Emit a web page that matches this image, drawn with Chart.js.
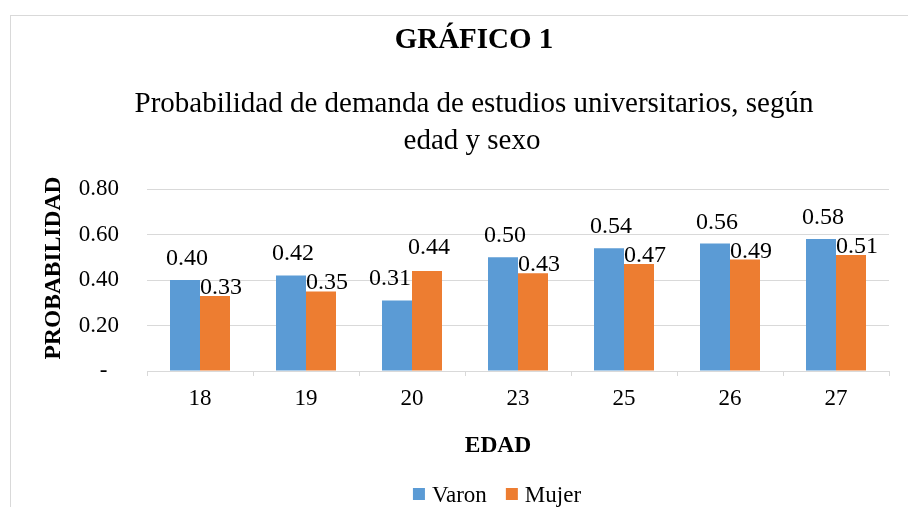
<!DOCTYPE html>
<html>
<head>
<meta charset="utf-8">
<script src="https://cdn.jsdelivr.net/npm/chart.js@4.4.1/dist/chart.umd.min.js"></script>
<style>
  html, body { margin: 0; padding: 0; background: #ffffff; overflow: hidden; }
  canvas { display: block; }
</style>
</head>
<body>
<canvas id="c" width="908" height="507"></canvas>
<script>
// ---- Data ----
const categories = ['18', '19', '20', '23', '25', '26', '27'];
const varon = [0.40, 0.42, 0.31, 0.50, 0.54, 0.56, 0.58];
const mujer = [0.33, 0.35, 0.44, 0.43, 0.47, 0.49, 0.51];
const seriesNames = ['Varon', 'Mujer'];
const yTicks = [0, 0.2, 0.4, 0.6, 0.8];

const titleText = 'GRÁFICO 1';
const subtitleLines = ['Probabilidad de demanda de estudios universitarios, según', 'edad y sexo'];
const yTitle = 'PROBABILIDAD';
const xTitle = 'EDAD';

const FONT = "'Liberation Serif', 'Times New Roman', serif";
const colors = ['#5B9BD5', '#ED7D31'];

Chart.defaults.font.family = FONT;
Chart.defaults.font.size = 23;
Chart.defaults.color = '#000000';

const decorPlugin = {
  id: 'decor',
  beforeDraw(chart) {
    const ctx = chart.ctx;
    ctx.save();
    ctx.fillStyle = '#ffffff';
    ctx.fillRect(0, 0, chart.width, chart.height);
    ctx.strokeStyle = '#d9d9d9';
    ctx.lineWidth = 1;
    ctx.strokeRect(10.5, 15.5, 1200, 1200);
    ctx.restore();
  },
  afterDraw(chart) {
    const ctx = chart.ctx;
    ctx.save();
    ctx.fillStyle = '#000000';
    ctx.textAlign = 'center';
    ctx.textBaseline = 'alphabetic';
    // Title
    ctx.font = 'bold 29px ' + FONT;
    ctx.fillText(titleText, 474, 48);
    // Subtitle
    ctx.font = '29px ' + FONT;
    ctx.fillText(subtitleLines[0], 474, 112);
    ctx.fillText(subtitleLines[1], 472, 149);
    // X title
    ctx.font = 'bold 23.5px ' + FONT;
    ctx.fillText(xTitle, 498, 452);
    // Y title
    ctx.save();
    ctx.translate(54, 268);
    ctx.rotate(-Math.PI / 2);
    ctx.textBaseline = 'middle';
    ctx.fillText(yTitle, 0, 0);
    ctx.restore();
    // Legend
    ctx.font = '23px ' + FONT;
    const sq = 12, gapTxt = 7, gapItem = 19;
    const widths = chart.data.datasets.map(d => ctx.measureText(d.label).width);
    let total = 0;
    widths.forEach((w, i) => { total += sq + gapTxt + w + (i ? gapItem : 0); });
    let x = 497 - total / 2;
    ctx.textAlign = 'left';
    chart.data.datasets.forEach((d, i) => {
      ctx.fillStyle = d.backgroundColor;
      ctx.fillRect(x, 488, sq, sq);
      ctx.fillStyle = '#000000';
      ctx.fillText(d.label, x + sq + gapTxt, 502);
      x += sq + gapTxt + widths[i] + gapItem;
    });
    ctx.restore();
  },
  afterDatasetsDraw(chart) {
    const ctx = chart.ctx;
    ctx.save();
    ctx.font = '24px ' + FONT;
    ctx.fillStyle = '#000000';
    ctx.textAlign = 'center';
    ctx.textBaseline = 'alphabetic';
    const m0 = chart.getDatasetMeta(0), m1 = chart.getDatasetMeta(1);
    const d0 = chart.data.datasets[0].data, d1 = chart.data.datasets[1].data;
    for (let i = 0; i < d0.length; i++) {
      const e0 = m0.data[i], e1 = m1.data[i];
      const varonHigher = d0[i] >= d1[i];
      // Varon label
      ctx.fillText(d0[i].toFixed(2), e0.x + (varonHigher ? 2 : -7), e0.y - 15);
      // Mujer label
      if (varonHigher) {
        ctx.fillText(d1[i].toFixed(2), e1.x + 6, e1.y - 2);
      } else {
        ctx.fillText(d1[i].toFixed(2), e1.x + 2, e1.y - 17);
      }
    }
    ctx.restore();
  }
};

new Chart(document.getElementById('c'), {
  type: 'bar',
  data: {
    labels: categories,
    datasets: [
      { label: seriesNames[0], data: varon, backgroundColor: colors[0], categoryPercentage: 0.566, barPercentage: 1.0 },
      { label: seriesNames[1], data: mujer, backgroundColor: colors[1], categoryPercentage: 0.566, barPercentage: 1.0 }
    ]
  },
  options: {
    responsive: false,
    animation: false,
    layout: { padding: { top: 189, left: 10, right: 19, bottom: 0 } },
    plugins: {
      legend: { display: false },
      title: { display: false },
      tooltip: { enabled: false }
    },
    scales: {
      x: {
        afterFit(scale) { scale.height = 136; },
        grid: { display: true, drawOnChartArea: false, drawTicks: true, tickLength: 5, color: '#d9d9d9', offset: true },
        border: { display: true, color: '#d9d9d9', width: 1 },
        ticks: { padding: 9, color: '#000000', font: { size: 23 } }
      },
      y: {
        min: 0,
        max: 0.8,
        afterFit(scale) { scale.width = 137; },
        afterBuildTicks(scale) { scale.ticks = yTicks.map(v => ({ value: v })); },
        grid: { color: '#d9d9d9', drawTicks: false, lineWidth: 1 },
        border: { display: false },
        ticks: {
          padding: 28,
          color: '#000000',
          font: { size: 23 },
          callback: (v) => v === 0 ? '-  ' : Number(v).toFixed(2)
        }
      }
    }
  },
  plugins: [decorPlugin]
});
</script>
</body>
</html>
